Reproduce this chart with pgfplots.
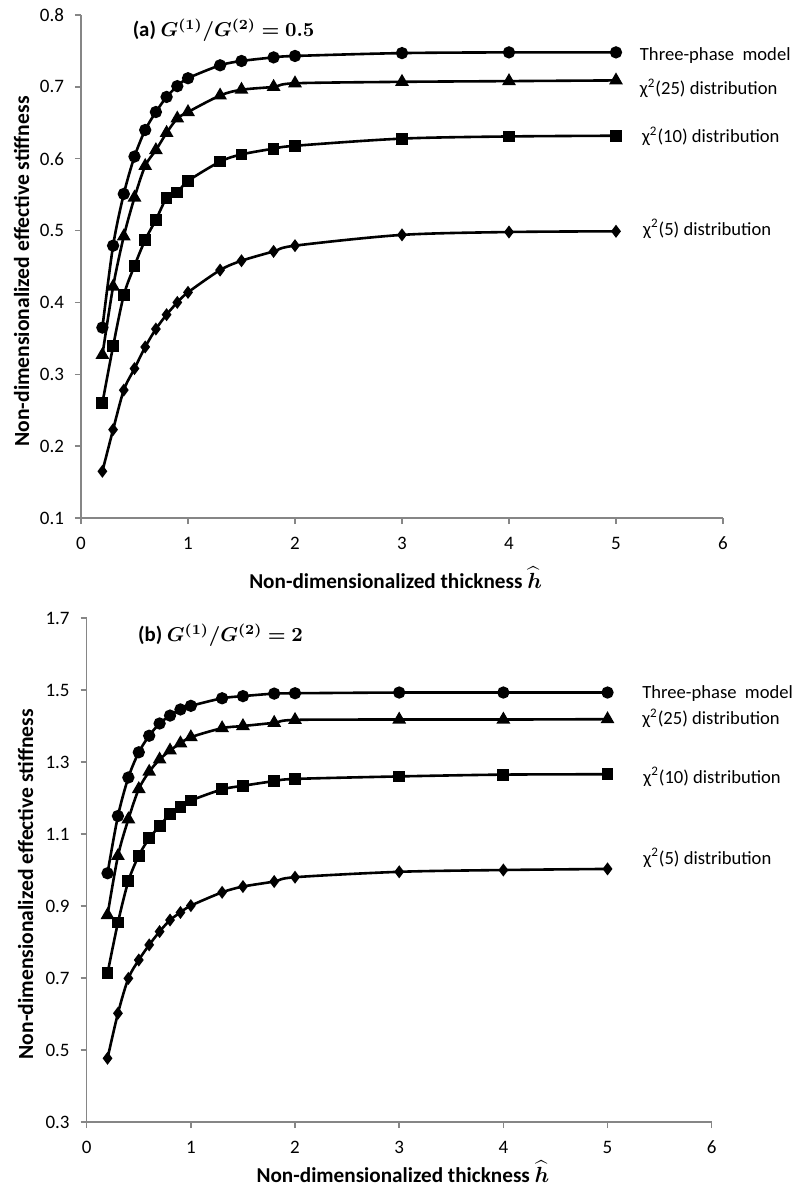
\documentclass[border=0pt]{standalone}
\usepackage{fontspec}
\setmainfont{Carlito}
\usepackage{amsmath}
\usepackage{bm}
\usepackage{pgfplots}
\pgfplotsset{compat=1.18}
\definecolor{axisgray}{RGB}{134,134,134}

\pgfplotstableread{
x y
0.2 0.365
0.3 0.479
0.4 0.551
0.5 0.603
0.6 0.640
0.7 0.665
0.8 0.686
0.9 0.701
1.0 0.712
1.3 0.730
1.5 0.736
1.8 0.741
2.0 0.743
3.0 0.747
4.0 0.748
5.0 0.748
}\topTP
\pgfplotstableread{
x y
0.2 0.327
0.3 0.422
0.4 0.492
0.5 0.546
0.6 0.590
0.7 0.612
0.8 0.636
0.9 0.656
1.0 0.665
1.3 0.688
1.5 0.696
1.8 0.700
2.0 0.705
3.0 0.707
4.0 0.708
5.0 0.709
}\topCa
\pgfplotstableread{
x y
0.2 0.260
0.3 0.339
0.4 0.410
0.5 0.451
0.6 0.487
0.7 0.515
0.8 0.545
0.9 0.553
1.0 0.569
1.3 0.596
1.5 0.606
1.8 0.614
2.0 0.618
3.0 0.628
4.0 0.631
5.0 0.632
}\topCb
\pgfplotstableread{
x y
0.2 0.165
0.3 0.223
0.4 0.278
0.5 0.308
0.6 0.338
0.7 0.363
0.8 0.383
0.9 0.400
1.0 0.414
1.3 0.445
1.5 0.458
1.8 0.471
2.0 0.479
3.0 0.494
4.0 0.498
5.0 0.499
}\topCc

\pgfplotstableread{
x y
0.2 0.991
0.3 1.150
0.4 1.257
0.5 1.327
0.6 1.373
0.7 1.407
0.8 1.429
0.9 1.446
1.0 1.456
1.3 1.477
1.5 1.483
1.8 1.490
2.0 1.491
3.0 1.493
4.0 1.493
5.0 1.493
}\botTP
\pgfplotstableread{
x y
0.2 0.875
0.3 1.039
0.4 1.141
0.5 1.225
0.6 1.273
0.7 1.307
0.8 1.332
0.9 1.352
1.0 1.369
1.3 1.394
1.5 1.400
1.8 1.409
2.0 1.417
3.0 1.418
4.0 1.418
5.0 1.419
}\botCa
\pgfplotstableread{
x y
0.2 0.713
0.3 0.854
0.4 0.969
0.5 1.040
0.6 1.088
0.7 1.122
0.8 1.156
0.9 1.176
1.0 1.193
1.3 1.224
1.5 1.234
1.8 1.247
2.0 1.253
3.0 1.260
4.0 1.265
5.0 1.266
}\botCb
\pgfplotstableread{
x y
0.2 0.477
0.3 0.602
0.4 0.699
0.5 0.750
0.6 0.792
0.7 0.829
0.8 0.861
0.9 0.882
1.0 0.901
1.3 0.938
1.5 0.954
1.8 0.968
2.0 0.980
3.0 0.995
4.0 1.000
5.0 1.003
}\botCc

\pgfplotsset{
  panel/.style={
    scale only axis,
    anchor=south west,
    xmin=0, xmax=6,
    xtick={0,1,2,3,4,5,6},
    axis x line*=bottom, axis y line*=left,
    axis line style={draw=axisgray, line width=0.7pt, -},
    tick align=outside,
    major tick length=3pt,
    tick style={draw=axisgray, line width=0.7pt},
    /pgf/number format/assume math mode=true,
    ticklabel style={font=\fontsize{9.5}{10}\selectfont, text=black},
    yticklabel style={/pgf/number format/fixed, /pgf/number format/precision=1, /pgf/number format/fixed zerofill},
    xticklabel style={yshift=-3pt},
    yticklabel style={xshift=-2pt},
    clip=false,
    every axis plot/.append style={black, line width=1.3pt, smooth, tension=0.5},
    xlabel style={font=\fontsize{10.6}{12}\selectfont\bfseries},
    ylabel style={font=\fontsize{10.8}{12}\selectfont\bfseries},
  },
}
\tikzset{
  tp/.style={mark=*, mark size=2.4pt, mark options={solid}},
  ca/.style={mark=triangle*, mark size=2.7pt, mark options={solid}},
  cb/.style={mark=square*, mark size=2.3pt, mark options={solid}},
  cc/.style={mark=diamond*, mark size=2.2pt, mark options={solid}},
  slab/.style={anchor=west, font=\fontsize{9.3}{10}\selectfont, inner sep=0pt},
}

\begin{document}
\begin{tikzpicture}
\useasboundingbox (0,0) rectangle (399.5pt,-597.5pt);

\begin{axis}[panel,
  at={(40.5pt,-259pt)},
  width=321pt, height=251.5pt,
  ymin=0.1, ymax=0.8,
  ytick={0.1,0.2,0.3,0.4,0.5,0.6,0.7,0.8},
  xlabel={Non-dimensionalized thickness $\widehat{\bm{h}}$},
  ylabel={Non-dimensionalized effective stiffness},
  xlabel style={at={(axis description cs:0.49,0)}, anchor=center, yshift=-30pt},
  ylabel style={at={(axis description cs:-0.0927,0.49)}, anchor=center},
]
\addplot[tp] table {\topTP};
\addplot[ca] table {\topCa};
\addplot[cb] table {\topCb};
\addplot[cc] table {\topCc};
\node[anchor=west, inner sep=0pt, font=\fontsize{10.4}{12}\selectfont] at (axis cs:0.48,0.779) {\textbf{(a)} $\bm{G^{(1)}/G^{(2)}=0.5}$};
\node[slab] at (axis cs:5.22,0.744) {Three-phase\ \ model};
\node[slab] at (axis cs:5.22,0.698) {χ\textsuperscript{2}(25) distribution};
\node[slab] at (axis cs:5.24,0.631) {χ\textsuperscript{2}(10) distribution};
\node[slab] at (axis cs:5.25,0.502) {χ\textsuperscript{2}(5) distribution};
\end{axis}

\begin{axis}[panel,
  at={(43.35pt,-561pt)},
  width=312.5pt, height=252pt,
  ymin=0.3, ymax=1.7,
  ytick={0.3,0.5,0.7,0.9,1.1,1.3,1.5,1.7},
  xlabel={Non-dimensionalized thickness $\widehat{\bm{h}}$},
  ylabel={Non-dimensionalized effective stiffness},
  xlabel style={at={(axis description cs:0.506,0)}, anchor=center, yshift=-25pt},
  ylabel style={at={(axis description cs:-0.0976,0.472)}, anchor=center},
]
\addplot[tp] table {\botTP};
\addplot[ca] table {\botCa};
\addplot[cb] table {\botCb};
\addplot[cc] table {\botCc};
\node[anchor=west, inner sep=0pt, font=\fontsize{10.4}{12}\selectfont] at (axis cs:0.49,1.653) {\textbf{(b)} $\bm{G^{(1)}/G^{(2)}=2}$};
\node[slab] at (axis cs:5.33,1.491) {Three-phase\ \ model};
\node[slab] at (axis cs:5.33,1.421) {χ\textsuperscript{2}(25) distribution};
\node[slab] at (axis cs:5.34,1.259) {χ\textsuperscript{2}(10) distribution};
\node[slab] at (axis cs:5.34,1.033) {χ\textsuperscript{2}(5) distribution};
\end{axis}
\end{tikzpicture}
\end{document}
